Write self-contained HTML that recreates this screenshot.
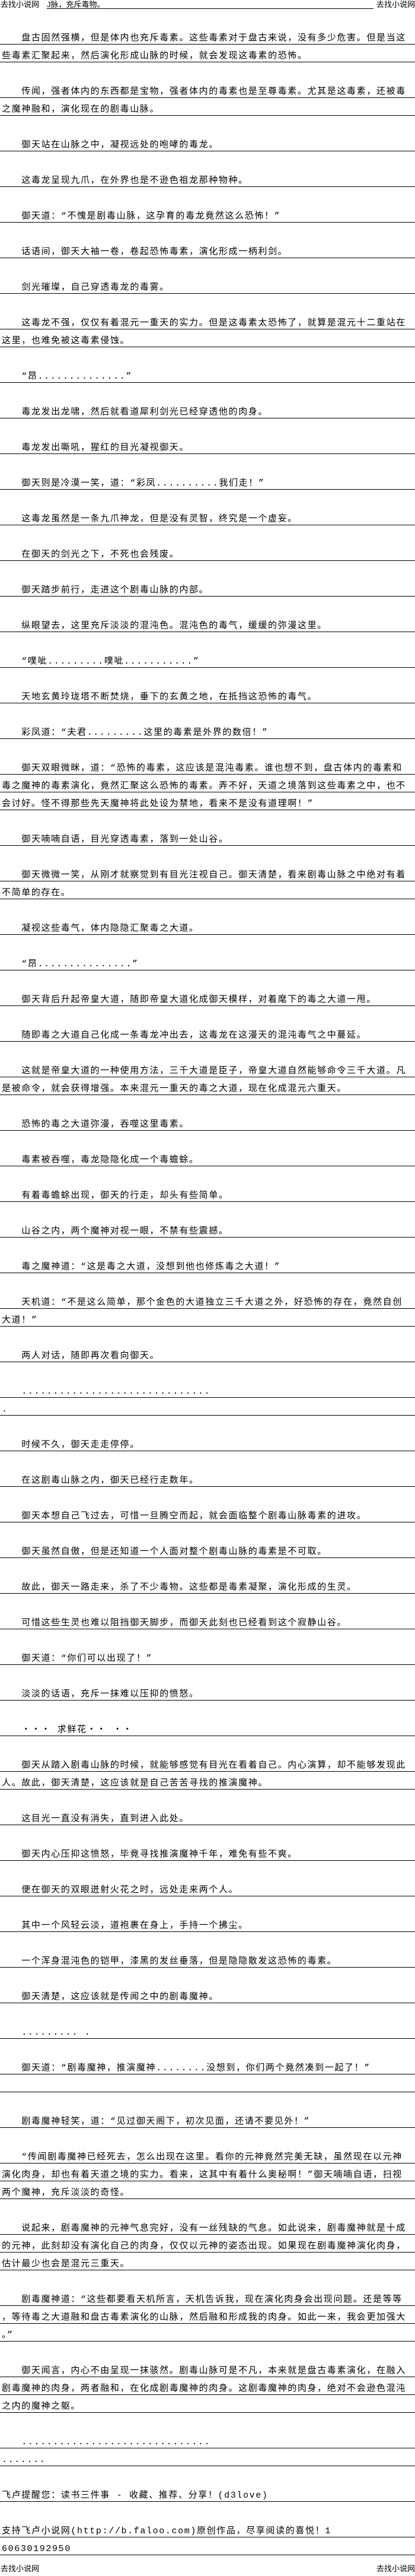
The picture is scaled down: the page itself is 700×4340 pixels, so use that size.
<!DOCTYPE html>
<html><head><meta charset="utf-8">
<style>
html,body{margin:0;padding:0;background:#fff;}
body{width:700px;height:4340px;position:relative;overflow:hidden;color:#000;
font-family:"Liberation Mono","Noto Sans CJK SC",monospace;}
.hd{position:absolute;left:0;width:700px;height:16px;font-size:13px;line-height:15px;
font-family:"Liberation Sans","Noto Sans CJK SC",sans-serif;}
.hd .l{position:absolute;left:1px;top:0;}
.hd .r{position:absolute;right:0;top:0;}
.hd .m{position:absolute;left:79px;width:551px;top:0;border-bottom:1px solid #000;height:14px;}
#rows{position:absolute;left:0;top:45px;width:700px;}
.r0{height:30px;}
.t{height:29px;border-bottom:1px solid #000;font-size:15px;line-height:16px;
letter-spacing:1.63px;white-space:pre;box-sizing:content-box;}
.t span{display:block;padding:12px 0 0 3px;}
</style></head><body>
<div class="hd" style="top:0"><span class="l">去找小说网</span><span class="m">J脉，充斥毒物。</span><span class="r">去找小说网</span></div>
<div id="rows">
<div class="t"><span>　　盘古固然强横，但是体内也充斥毒素。这些毒素对于盘古来说，没有多少危害。但是当这</span></div>
<div class="t"><span>些毒素汇聚起来，然后演化形成山脉的时候，就会发现这毒素的恐怖。</span></div>
<div class="r0"></div>
<div class="t"><span>　　传闻，强者体内的东西都是宝物，强者体内的毒素也是至尊毒素。尤其是这毒素，还被毒</span></div>
<div class="t"><span>之魔神融和，演化现在的剧毒山脉。</span></div>
<div class="r0"></div>
<div class="t"><span>　　御天站在山脉之中，凝视远处的咆哮的毒龙。</span></div>
<div class="r0"></div>
<div class="t"><span>　　这毒龙呈现九爪，在外界也是不逊色祖龙那种物种。</span></div>
<div class="r0"></div>
<div class="t"><span>　　御天道：“不愧是剧毒山脉，这孕育的毒龙竟然这么恐怖！”</span></div>
<div class="r0"></div>
<div class="t"><span>　　话语间，御天大袖一卷，卷起恐怖毒素，演化形成一柄利剑。</span></div>
<div class="r0"></div>
<div class="t"><span>　　剑光璀璨，自己穿透毒龙的毒雾。</span></div>
<div class="r0"></div>
<div class="t"><span>　　这毒龙不强，仅仅有着混元一重天的实力。但是这毒素太恐怖了，就算是混元十二重站在</span></div>
<div class="t"><span>这里，也难免被这毒素侵蚀。</span></div>
<div class="r0"></div>
<div class="t"><span>　　“昂..............”</span></div>
<div class="r0"></div>
<div class="t"><span>　　毒龙发出龙啸，然后就看道犀利剑光已经穿透他的肉身。</span></div>
<div class="r0"></div>
<div class="t"><span>　　毒龙发出嘶吼，猩红的目光凝视御天。</span></div>
<div class="r0"></div>
<div class="t"><span>　　御天则是冷漠一笑，道：“彩凤..........我们走！”</span></div>
<div class="r0"></div>
<div class="t"><span>　　这毒龙虽然是一条九爪神龙，但是没有灵智，终究是一个虚妄。</span></div>
<div class="r0"></div>
<div class="t"><span>　　在御天的剑光之下，不死也会残废。</span></div>
<div class="r0"></div>
<div class="t"><span>　　御天踏步前行，走进这个剧毒山脉的内部。</span></div>
<div class="r0"></div>
<div class="t"><span>　　纵眼望去，这里充斥淡淡的混沌色。混沌色的毒气，缓缓的弥漫这里。</span></div>
<div class="r0"></div>
<div class="t"><span>　　“噗呲.........噗呲...........”</span></div>
<div class="r0"></div>
<div class="t"><span>　　天地玄黄玲珑塔不断焚烧，垂下的玄黄之地，在抵挡这恐怖的毒气。</span></div>
<div class="r0"></div>
<div class="t"><span>　　彩凤道：“夫君.........这里的毒素是外界的数倍！”</span></div>
<div class="r0"></div>
<div class="t"><span>　　御天双眼微眯，道：“恐怖的毒素，这应该是混沌毒素。谁也想不到，盘古体内的毒素和</span></div>
<div class="t"><span>毒之魔神的毒素演化，竟然汇聚这么恐怖的毒素。弄不好，天道之境落到这些毒素之中，也不</span></div>
<div class="t"><span>会讨好。怪不得那些先天魔神将此处设为禁地，看来不是没有道理啊！”</span></div>
<div class="r0"></div>
<div class="t"><span>　　御天喃喃自语，目光穿透毒素，落到一处山谷。</span></div>
<div class="r0"></div>
<div class="t"><span>　　御天微微一笑，从刚才就察觉到有目光注视自己。御天清楚，看来剧毒山脉之中绝对有着</span></div>
<div class="t"><span>不简单的存在。</span></div>
<div class="r0"></div>
<div class="t"><span>　　凝视这些毒气，体内隐隐汇聚毒之大道。</span></div>
<div class="r0"></div>
<div class="t"><span>　　“昂...............”</span></div>
<div class="r0"></div>
<div class="t"><span>　　御天背后升起帝皇大道，随即帝皇大道化成御天模样，对着麾下的毒之大道一甩。</span></div>
<div class="r0"></div>
<div class="t"><span>　　随即毒之大道自己化成一条毒龙冲出去，这毒龙在这漫天的混沌毒气之中蔓延。</span></div>
<div class="r0"></div>
<div class="t"><span>　　这就是帝皇大道的一种使用方法，三千大道是臣子，帝皇大道自然能够命令三千大道。凡</span></div>
<div class="t"><span>是被命令，就会获得增强。本来混元一重天的毒之大道，现在化成混元六重天。</span></div>
<div class="r0"></div>
<div class="t"><span>　　恐怖的毒之大道弥漫，吞噬这里毒素。</span></div>
<div class="r0"></div>
<div class="t"><span>　　毒素被吞噬，毒龙隐隐化成一个毒蟾蜍。</span></div>
<div class="r0"></div>
<div class="t"><span>　　有着毒蟾蜍出现，御天的行走，却头有些简单。</span></div>
<div class="r0"></div>
<div class="t"><span>　　山谷之内，两个魔神对视一眼，不禁有些震撼。</span></div>
<div class="r0"></div>
<div class="t"><span>　　毒之魔神道：“这是毒之大道，没想到他也修炼毒之大道！”</span></div>
<div class="r0"></div>
<div class="t"><span>　　天机道：“不是这么简单，那个金色的大道独立三千大道之外，好恐怖的存在，竟然自创</span></div>
<div class="t"><span>大道！”</span></div>
<div class="r0"></div>
<div class="t"><span>　　两人对话，随即再次看向御天。</span></div>
<div class="r0"></div>
<div class="t"><span>　　..............................</span></div>
<div class="t"><span>.</span></div>
<div class="r0"></div>
<div class="t"><span>　　时候不久，御天走走停停。</span></div>
<div class="r0"></div>
<div class="t"><span>　　在这剧毒山脉之内，御天已经行走数年。</span></div>
<div class="r0"></div>
<div class="t"><span>　　御天本想自己飞过去，可惜一旦腾空而起，就会面临整个剧毒山脉毒素的进攻。</span></div>
<div class="r0"></div>
<div class="t"><span>　　御天虽然自傲，但是还知道一个人面对整个剧毒山脉的毒素是不可取。</span></div>
<div class="r0"></div>
<div class="t"><span>　　故此，御天一路走来，杀了不少毒物。这些都是毒素凝聚，演化形成的生灵。</span></div>
<div class="r0"></div>
<div class="t"><span>　　可惜这些生灵也难以阻挡御天脚步，而御天此刻也已经看到这个寂静山谷。</span></div>
<div class="r0"></div>
<div class="t"><span>　　御天道：“你们可以出现了！”</span></div>
<div class="r0"></div>
<div class="t"><span>　　淡淡的话语，充斥一抹难以压抑的愤怒。</span></div>
<div class="r0"></div>
<div class="t"><span>　　・・・ 求鲜花・・ ・・</span></div>
<div class="r0"></div>
<div class="t"><span>　　御天从踏入剧毒山脉的时候，就能够感觉有目光在看着自己。内心演算，却不能够发现此</span></div>
<div class="t"><span>人。故此，御天清楚，这应该就是自己苦苦寻找的推演魔神。</span></div>
<div class="r0"></div>
<div class="t"><span>　　这目光一直没有消失，直到进入此处。</span></div>
<div class="r0"></div>
<div class="t"><span>　　御天内心压抑这愤怒，毕竟寻找推演魔神千年，难免有些不爽。</span></div>
<div class="r0"></div>
<div class="t"><span>　　便在御天的双眼迸射火花之时，远处走来两个人。</span></div>
<div class="r0"></div>
<div class="t"><span>　　其中一个风轻云淡，道袍裹在身上，手持一个拂尘。</span></div>
<div class="r0"></div>
<div class="t"><span>　　一个浑身混沌色的铠甲，漆黑的发丝垂落，但是隐隐散发这恐怖的毒素。</span></div>
<div class="r0"></div>
<div class="t"><span>　　御天清楚，这应该就是传闻之中的剧毒魔神。</span></div>
<div class="r0"></div>
<div class="t"><span>　　......... .</span></div>
<div class="r0"></div>
<div class="t"><span>　　御天道：“剧毒魔神，推演魔神........没想到，你们两个竟然凑到一起了！”</span></div>
<div class="t"><span> </span></div>
<div class="r0"></div>
<div class="t"><span>　　剧毒魔神轻笑，道：“见过御天阁下，初次见面，还请不要见外！”</span></div>
<div class="r0"></div>
<div class="t"><span>　　“传闻剧毒魔神已经死去，怎么出现在这里。看你的元神竟然完美无缺，虽然现在以元神</span></div>
<div class="t"><span>演化肉身，却也有着天道之境的实力。看来，这其中有着什么奥秘啊！”御天喃喃自语，扫视</span></div>
<div class="t"><span>两个魔神，充斥淡淡的奇怪。</span></div>
<div class="r0"></div>
<div class="t"><span>　　说起来，剧毒魔神的元神气息完好，没有一丝残缺的气息。如此说来，剧毒魔神就是十成</span></div>
<div class="t"><span>的元神，此刻却没有演化自己的肉身，仅仅以元神的姿态出现。如果现在剧毒魔神演化肉身，</span></div>
<div class="t"><span>估计最少也会是混元三重天。</span></div>
<div class="r0"></div>
<div class="t"><span>　　剧毒魔神道：“这些都要看天机所言，天机告诉我，现在演化肉身会出现问题。还是等等</span></div>
<div class="t"><span>，等待毒之大道融和盘古毒素演化的山脉，然后融和形成我的肉身。如此一来，我会更加强大</span></div>
<div class="t"><span>。”</span></div>
<div class="r0"></div>
<div class="t"><span>　　御天闻言，内心不由呈现一抹骇然。剧毒山脉可是不凡，本来就是盘古毒素演化，在融入</span></div>
<div class="t"><span>剧毒魔神的肉身，两者融和，在化成剧毒魔神的肉身。这剧毒魔神的肉身，绝对不会逊色混沌</span></div>
<div class="t"><span>之内的魔神之躯。</span></div>
<div class="r0"></div>
<div class="t"><span>　　..............................</span></div>
<div class="t"><span>.......</span></div>
<div class="r0"></div>
<div class="t"><span>飞卢提醒您：读书三件事 - 收藏、推荐、分享！(d3love)</span></div>
<div class="r0"></div>
<div class="t"><span>支持飞卢小说网(http://b.faloo.com)原创作品，尽享阅读的喜悦！1</span></div>
<div class="t"><span>60630192950</span></div>
</div>
<div class="hd" style="top:4320px"><span class="l">去找小说网</span><span class="r">去找小说网</span></div>
</body></html>
